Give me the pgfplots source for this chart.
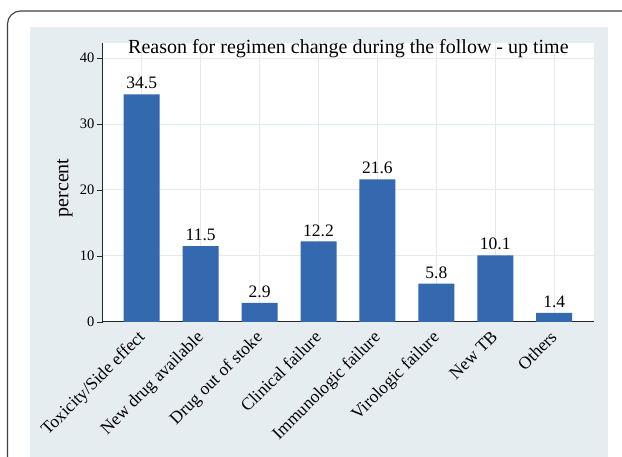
\documentclass[border=0pt]{standalone}
\usepackage{pgfplots}
\pgfplotsset{compat=1.18}
\usepackage{fontspec}
\setmainfont{Liberation Serif}
\definecolor{bgc}{RGB}{230,237,240}
\definecolor{barc}{RGB}{52,104,175}
\definecolor{gridc}{RGB}{226,235,238}
\begin{document}
\begin{tikzpicture}[x=1pt,y=1pt]
\useasboundingbox (0,0) rectangle (622,457);
\fill[white] (0,0) rectangle (622,457);
\draw[line width=1.1pt, black!75, rounded corners=13pt] (7.5,-5) -- (7.5,446) -- (630,446);
\fill[bgc] (29.5,0) rectangle (608.3,430.3);
\begin{axis}[
  at={(102.7pt,135pt)}, anchor=south west,
  scale only axis, width=491.3pt, height=279.3pt,
  xmin=-0.662, xmax=7.675, ymin=0, ymax=42.32,
  axis x line*=bottom, axis y line*=left,
  axis line style={-, line width=1pt, black!85},
  axis background/.style={fill=white},
  /pgf/number format/assume math mode=true,
  ytick={0,10,20,30,40},
  yticklabel={\fontsize{14.5}{14.5}\selectfont\pgfmathprintnumber[assume math mode=true]{\tick}},
  xtick={0,1,2,3,4,5,6,7},
  xticklabels={Toxicity/Side effect, New drug available, Drug out of stoke, Clinical failure, Immunologic failure, Virologic failure, New TB, Others},
  xmajorgrids, ymajorgrids,
  grid style={gridc, line width=1pt},
  tick align=outside,
  major tick length=6pt,
  ytick style={black!85, line width=0.9pt},
  xtick style={draw=none},
  yticklabel style={inner sep=2pt},
  xticklabel style={xshift=-5pt, rotate=45, anchor=north east, font=\fontsize{17.5}{17.5}\selectfont, inner sep=1pt},
  ylabel={percent},
  ylabel style={font=\fontsize{20}{20}\selectfont, at={(axis description cs:-0.077,0.48)}, anchor=center},
]
\addplot[ybar, fill=barc, draw=none, bar width=36pt,
  nodes near coords,
  nodes near coords style={font=\fontsize{17.5}{17.5}\selectfont, anchor=south, inner sep=0pt, yshift=5pt, black}]
  coordinates {(0,34.5) (1,11.5) (2,2.9) (3,12.2) (4,21.6) (5,5.8) (6,10.1) (7,1.4)};
\end{axis}
\node[font=\fontsize{20}{20}\selectfont, anchor=base] at (348.4,403.5) {Reason for regimen change during the follow - up time};
\end{tikzpicture}
\end{document}
